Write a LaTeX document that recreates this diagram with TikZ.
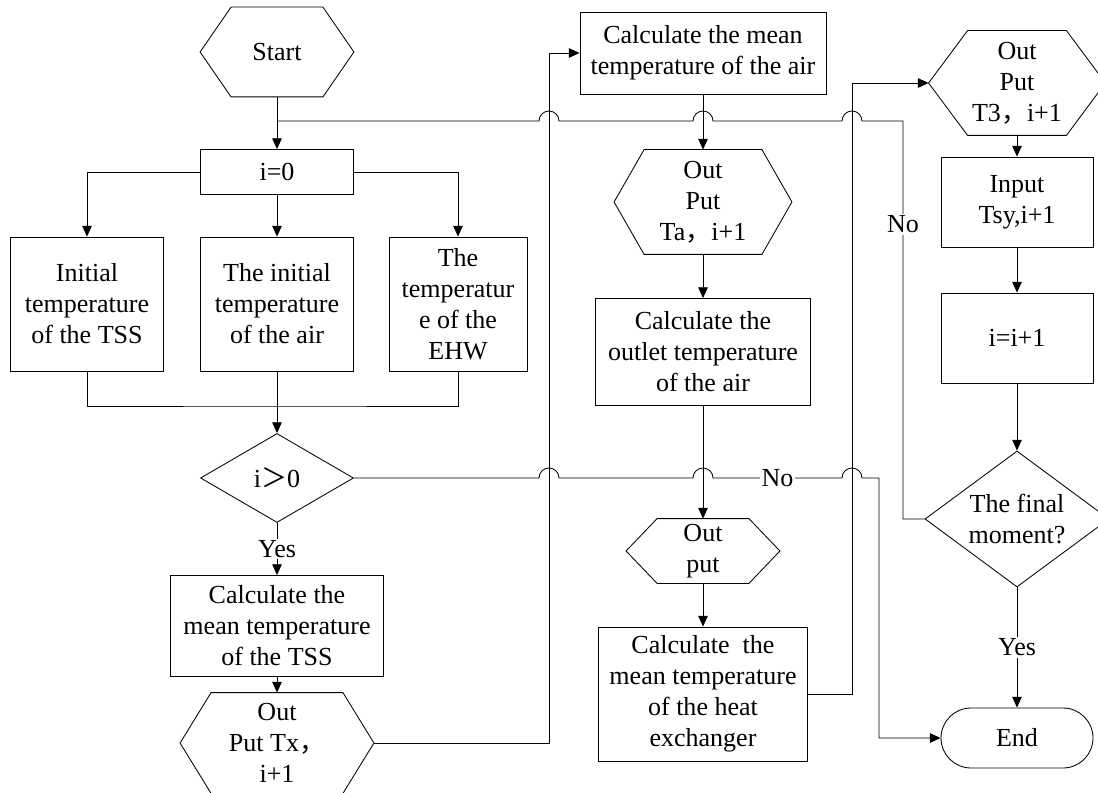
\documentclass[tikz,border=0pt]{standalone}
\usepackage{fontspec}
\setmainfont{Liberation Serif}
\newfontfamily\cjk{Noto Sans CJK SC}
\usetikzlibrary{shapes.geometric,arrows.meta}
\tikzset{dim/.style 2 args={minimum width=#1*0.025cm,minimum height=#2*0.025cm}}

\begin{document}
\begin{tikzpicture}[x=0.025cm,y=-0.025cm,line width=0.6pt]
  \tikzstyle{every node}=[font=\fontsize{18.5}{22}\selectfont,align=center,inner sep=0pt]
  \tikzstyle{block}=[draw]
  \tikzstyle{hexa}=[]
  \tikzstyle{test}=[draw,diamond]
  \tikzstyle{term}=[draw,rounded corners=0.75cm]
  \tikzstyle{flow}=[-{Triangle[length=0.27cm,width=0.24cm]}]
  \tikzstyle{tag}=[fill=white,inner sep=1pt]
  \def\jr{0.25cm}
  \useasboundingbox (0,0) rectangle (1098,793);
  % first column
  \node[hexa,dim={153}{89}] (start) at (277,52) {Start};
  \node[block,dim={153}{45}] (i0) at (277,172) {i=0};
  \node[block,dim={153}{134}] (tss0) at (87,304) {Initial\\temperature\\of the TSS};
  \node[block,dim={153}{134}] (air0) at (277,304) {The initial\\temperature\\of the air};
  \node[block,dim={138}{134}] (ehw0) at (458,304) {The\\temperatur\\e of the\\EHW};
  \node[test,aspect=1.72,dim={153}{89}] (pos) at (277,478) {i{\cjk ＞}0};
  \node[block,dim={213}{101}] (tss) at (277,626) {Calculate the\\mean temperature\\of the TSS};
  \node[hexa,dim={193}{100}] (tx) at (277,743) {Out\\Put Tx{\cjk ，}\\i+1};
  % second column
  \node[block,dim={246}{82}] (air) at (703,53) {Calculate the mean\\temperature of the air};
  \node[hexa,dim={177}{104}] (ta) at (703,202) {Out\\Put\\Ta{\cjk ，}i+1};
  \node[block,dim={215}{107}] (outlet) at (703,352) {Calculate the\\outlet temperature\\of the air};
  \node[hexa,dim={153}{64}] (op) at (703,551) {Out\\put};
  \node[block,dim={209}{134}] (hx) at (703,694) {Calculate\ \ the\\mean temperature\\of the heat\\exchanger};
  % third column
  \node[hexa,dim={176}{104}] (t3) at (1017,83) {Out\\Put\\T3{\cjk ，}i+1};
  \node[block,dim={152}{90}] (tsy) at (1017,202) {Input\\Tsy,i+1};
  \node[block,dim={152}{90}] (inc) at (1017,338) {i=i+1};
  \node[test,aspect=1.35,dim={184}{136}] (last) at (1017,519) {The final\\moment?};
  \node[term,dim={152}{60}] (end) at (1017,738) {End};
  \coordinate (j1) at (277,121);
  \coordinate (jb) at (277,406);
  % hexagon outlines
  \foreach \n/\d in {start/0.775,tx/0.775,ta/0.75,op/0.775,t3/0.975}
    \draw (\n.west) -- ([xshift=\d cm]\n.north west) -- ([xshift=-\d cm]\n.north east)
      -- (\n.east) -- ([xshift=-\d cm]\n.south east) -- ([xshift=\d cm]\n.south west) -- cycle;
  % links
  \draw[flow] (start) -- (i0);
  \draw[flow] (i0.west) -| (tss0.north);
  \draw[flow] (i0) -- (air0);
  \draw[flow] (i0.east) -| (ehw0.north);
  \draw (tss0.south) |- (jb) -| (ehw0.south);
  \draw[flow] (air0) -- (pos);
  \draw[flow] (pos) -- node[tag]{Yes} (tss);
  \draw[flow] (tss) -- (tx);
  \draw[flow] (tx.east) -- (549,743) |- (air.west);
  \draw[flow] (air) -- (ta);
  \draw[flow] (ta) -- (outlet);
  \draw[flow] (outlet) -- (op);
  \draw[flow] (op) -- (hx);
  \draw[flow] (hx.east) -- (852,694) |- (t3.west);
  \draw[flow] (t3) -- (tsy);
  \draw[flow] (tsy) -- (inc);
  \draw[flow] (inc) -- (last);
  \draw[flow] (last) -- node[tag]{Yes} (end);
  \draw (last.west) -- (903,519) -- node[tag,pos=0.74]{No} (903,121)
    -- (862,121) arc[start angle=0,end angle=180,radius=\jr]
    -- (713,121) arc[start angle=0,end angle=180,radius=\jr]
    -- (559,121) arc[start angle=0,end angle=180,radius=\jr] -- (j1);
  \draw[flow] (pos.east) -- (539,478) arc[start angle=180,end angle=0,radius=\jr]
    -- (693,478) arc[start angle=180,end angle=0,radius=\jr]
    -- node[tag]{No} (842,478) arc[start angle=180,end angle=0,radius=\jr]
    -- (879,478) |- (end.west);
\end{tikzpicture}
\end{document}
